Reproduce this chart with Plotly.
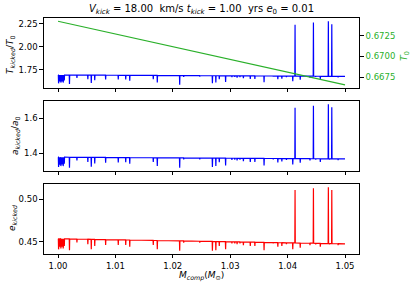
import plotly.graph_objects as go

# ---- data ----
m_comp_events = [1.0001, 1.0003, 1.0005, 1.0007, 1.0009, 1.0011, 1.0020, 1.0033, 1.0052, 1.0058,
                 1.0064, 1.0083, 1.0105, 1.0118, 1.0125, 1.0166, 1.0173, 1.0212, 1.0219, 1.0247,
                 1.0269, 1.0275, 1.0281, 1.0292, 1.0303, 1.0308, 1.0312, 1.0317, 1.0323, 1.0335,
                 1.0343, 1.0359, 1.0375, 1.0383, 1.0390, 1.0398, 1.0409, 1.0413, 1.0422, 1.0439,
                 1.0445, 1.0449, 1.0457, 1.0471, 1.0473, 1.0477, 1.0488]

t_ratio_events = [1.602, 1.624, 1.610, 1.624, 1.610, 1.632, 1.595, 1.662, 1.648, 1.605,
                  1.635, 1.643, 1.645, 1.645, 1.631, 1.648, 1.612, 1.586, 1.672, 1.675,
                  1.603, 1.611, 1.648, 1.618, 1.670, 1.671, 1.663, 1.671, 1.657, 1.650,
                  1.651, 1.615, 1.675, 1.646, 1.653, 1.669, 1.626, 2.240, 1.641, 1.664,
                  2.265, 1.672, 1.650, 2.280, 1.673, 2.247, 1.667]
t_ratio_base = [1.6930, 1.6929, 1.6929, 1.6928, 1.6927, 1.6927, 1.6924, 1.6920, 1.6914, 1.6913,
                1.6911, 1.6905, 1.6899, 1.6895, 1.6893, 1.6880, 1.6878, 1.6866, 1.6864, 1.6856,
                1.6849, 1.6848, 1.6846, 1.6842, 1.6839, 1.6838, 1.6836, 1.6835, 1.6833, 1.6830,
                1.6827, 1.6822, 1.6818, 1.6815, 1.6813, 1.6811, 1.6807, 1.6806, 1.6803, 1.6798,
                1.6797, 1.6795, 1.6793, 1.6788, 1.6788, 1.6787, 1.6784]

a_ratio_events = [1.322, 1.335, 1.327, 1.336, 1.327, 1.340, 1.318, 1.359, 1.350, 1.324,
                  1.342, 1.347, 1.348, 1.349, 1.340, 1.350, 1.328, 1.317, 1.365, 1.366,
                  1.322, 1.327, 1.349, 1.331, 1.363, 1.364, 1.359, 1.364, 1.355, 1.351,
                  1.351, 1.330, 1.366, 1.348, 1.353, 1.362, 1.336, 1.660, 1.346, 1.359,
                  1.672, 1.364, 1.351, 1.680, 1.365, 1.663, 1.361]
a_ratio_base = [1.3780, 1.3779, 1.3779, 1.3779, 1.3778, 1.3778, 1.3776, 1.3773, 1.3770, 1.3768,
                1.3767, 1.3763, 1.3759, 1.3756, 1.3755, 1.3747, 1.3745, 1.3738, 1.3736, 1.3731,
                1.3726, 1.3725, 1.3724, 1.3722, 1.3719, 1.3718, 1.3718, 1.3717, 1.3715, 1.3713,
                1.3711, 1.3708, 1.3705, 1.3703, 1.3702, 1.3700, 1.3698, 1.3697, 1.3696, 1.3692,
                1.3691, 1.3690, 1.3689, 1.3686, 1.3685, 1.3685, 1.3682]

e_kicked_events = [0.441, 0.444, 0.442, 0.444, 0.442, 0.445, 0.440, 0.449, 0.447, 0.441,
                   0.445, 0.446, 0.446, 0.446, 0.444, 0.446, 0.441, 0.4393, 0.449, 0.449,
                   0.4395, 0.440, 0.445, 0.441, 0.448, 0.448, 0.447, 0.448, 0.446, 0.445,
                   0.445, 0.440, 0.448, 0.444, 0.445, 0.447, 0.441, 0.511, 0.443, 0.446,
                   0.513, 0.447, 0.444, 0.5143, 0.447, 0.511, 0.446]
e_kicked_base = [0.4535, 0.4535, 0.4534, 0.4534, 0.4534, 0.4534, 0.4533, 0.4531, 0.4529, 0.4528,
                 0.4527, 0.4525, 0.4522, 0.4521, 0.4520, 0.4515, 0.4514, 0.4510, 0.4509, 0.4505,
                 0.4503, 0.4502, 0.4501, 0.4500, 0.4499, 0.4498, 0.4498, 0.4497, 0.4496, 0.4495,
                 0.4494, 0.4492, 0.4490, 0.4489, 0.4488, 0.4487, 0.4486, 0.4485, 0.4484, 0.4482,
                 0.4482, 0.4481, 0.4480, 0.4478, 0.4478, 0.4478, 0.4476]

m_range_ends = [1.0000, 1.0500]
t_ratio_ends = [1.693, 1.678]
a_ratio_ends = [1.378, 1.368]
e_kicked_ends = [0.4535, 0.4475]

m_comp_t0 = [1.00, 1.01, 1.02, 1.03, 1.04, 1.05]
t0_values = [0.67424, 0.67271, 0.67118, 0.66966, 0.66813, 0.66659]

x_ticks = [1.00, 1.01, 1.02, 1.03, 1.04, 1.05]


def build(events, base, ends):
    xs = [m_range_ends[0]]
    ys = [ends[0]]
    d = 0.00004
    for m, v, b in zip(m_comp_events, events, base):
        xs += [m - d, m, m + d]
        ys += [b, v, b]
    xs.append(m_range_ends[1])
    ys.append(ends[1])
    return xs, ys


BLUE = "#0000ff"
RED = "#ff0000"
GREEN = "#2ab02a"
FONT = "DejaVu Sans"
W, H = 415, 289

fig = go.Figure()
xt, yt = build(t_ratio_events, t_ratio_base, t_ratio_ends)
fig.add_trace(go.Scatter(x=xt, y=yt, mode="lines", line=dict(color=BLUE, width=1.2),
                         xaxis="x", yaxis="y", showlegend=False))
fig.add_trace(go.Scatter(x=m_comp_t0, y=t0_values, mode="lines", line=dict(color=GREEN, width=1.2),
                         xaxis="x", yaxis="y4", showlegend=False))
xa, ya = build(a_ratio_events, a_ratio_base, a_ratio_ends)
fig.add_trace(go.Scatter(x=xa, y=ya, mode="lines", line=dict(color=BLUE, width=1.2),
                         xaxis="x2", yaxis="y2", showlegend=False))
xe, ye = build(e_kicked_events, e_kicked_base, e_kicked_ends)
fig.add_trace(go.Scatter(x=xe, y=ye, mode="lines", line=dict(color=RED, width=1.2),
                         xaxis="x3", yaxis="y3", showlegend=False))

xdom = [43.65 / W, 359.35 / W]


def ydom(top, bot):
    return [1 - bot / H, 1 - top / H]


axis_common = dict(showgrid=False, zeroline=False, showline=True, linecolor="black", linewidth=0.8,
                   mirror=True, ticks="outside", ticklen=3.5, tickwidth=0.8, tickcolor="black",
                   tickfont=dict(family=FONT, size=8.5, color="black"))
xrange_ = [0.9975, 1.0525]
tick_txt = ["%.2f" % v for v in x_ticks]

fig.update_layout(
    width=W, height=H, margin=dict(l=0, r=0, t=0, b=0),
    paper_bgcolor="white", plot_bgcolor="white",
    xaxis=dict(domain=xdom, range=xrange_, anchor="y", tickvals=x_ticks, showticklabels=False, **axis_common),
    yaxis=dict(domain=ydom(18, 88), range=[1.551, 2.315], anchor="x", tickvals=[1.75, 2.0, 2.25],
               ticktext=["1.75", "2.00", "2.25"], **axis_common),
    yaxis4=dict(overlaying="y", side="right", anchor="x", range=[0.66621, 0.67463],
                tickvals=[0.6675, 0.6700, 0.6725], ticktext=["0.6675", "0.6700", "0.6725"],
                showgrid=False, zeroline=False, showline=False, ticks="outside", ticklen=3.5,
                tickwidth=0.8, tickcolor="black", tickfont=dict(family=FONT, size=8.5, color=GREEN)),
    xaxis2=dict(domain=xdom, range=xrange_, anchor="y2", tickvals=x_ticks, showticklabels=False, **axis_common),
    yaxis2=dict(domain=ydom(101, 171), range=[1.299, 1.699], anchor="x2", tickvals=[1.4, 1.6],
                ticktext=["1.4", "1.6"], **axis_common),
    xaxis3=dict(domain=xdom, range=xrange_, anchor="y3", tickvals=x_ticks, ticktext=tick_txt, **axis_common),
    yaxis3=dict(domain=ydom(184, 254), range=[0.4355, 0.518], anchor="x3", tickvals=[0.45, 0.50],
                ticktext=["0.45", "0.50"], **axis_common),
)

ann_font = dict(family=FONT, size=9, color="black")
fig.add_annotation(text="<i>V</i><sub><i>kick</i></sub> = 18.00  km/s <i>t</i><sub><i>kick</i></sub> = 1.00  yrs <i>e</i><sub>0</sub> = 0.01",
                   x=201.5 / W, y=1 - 10 / H, xref="paper", yref="paper", showarrow=False,
                   xanchor="center", yanchor="middle", font=dict(family=FONT, size=10, color="black"))
fig.add_annotation(text="<i>T</i><sub><i>kicked</i></sub>/<i>T</i><sub>0</sub>", textangle=-90,
                   x=10 / W, y=1 - 55 / H, xref="paper", yref="paper", showarrow=False,
                   xanchor="center", yanchor="middle", font=ann_font)
fig.add_annotation(text="<i>T</i><sub>0</sub>", textangle=-90,
                   x=405 / W, y=1 - 56 / H, xref="paper", yref="paper", showarrow=False,
                   xanchor="center", yanchor="middle", font=dict(family=FONT, size=9.5, color=GREEN))
fig.add_annotation(text="<i>a</i><sub><i>kicked</i></sub>/<i>a</i><sub>0</sub>", textangle=-90,
                   x=15 / W, y=1 - 136 / H, xref="paper", yref="paper", showarrow=False,
                   xanchor="center", yanchor="middle", font=ann_font)
fig.add_annotation(text="<i>e</i><sub><i>kicked</i></sub>", textangle=-90,
                   x=12 / W, y=1 - 218 / H, xref="paper", yref="paper", showarrow=False,
                   xanchor="center", yanchor="middle", font=ann_font)
fig.add_annotation(text="<i>M</i><sub><i>comp</i></sub>(<i>M</i><sub>⊙</sub>)",
                   x=201.5 / W, y=1 - 276 / H, xref="paper", yref="paper", showarrow=False,
                   xanchor="center", yanchor="middle", font=ann_font)

fig.write_html("out.html", config={"displayModeBar": False},
               post_script="document.body.style.margin='0px';")
